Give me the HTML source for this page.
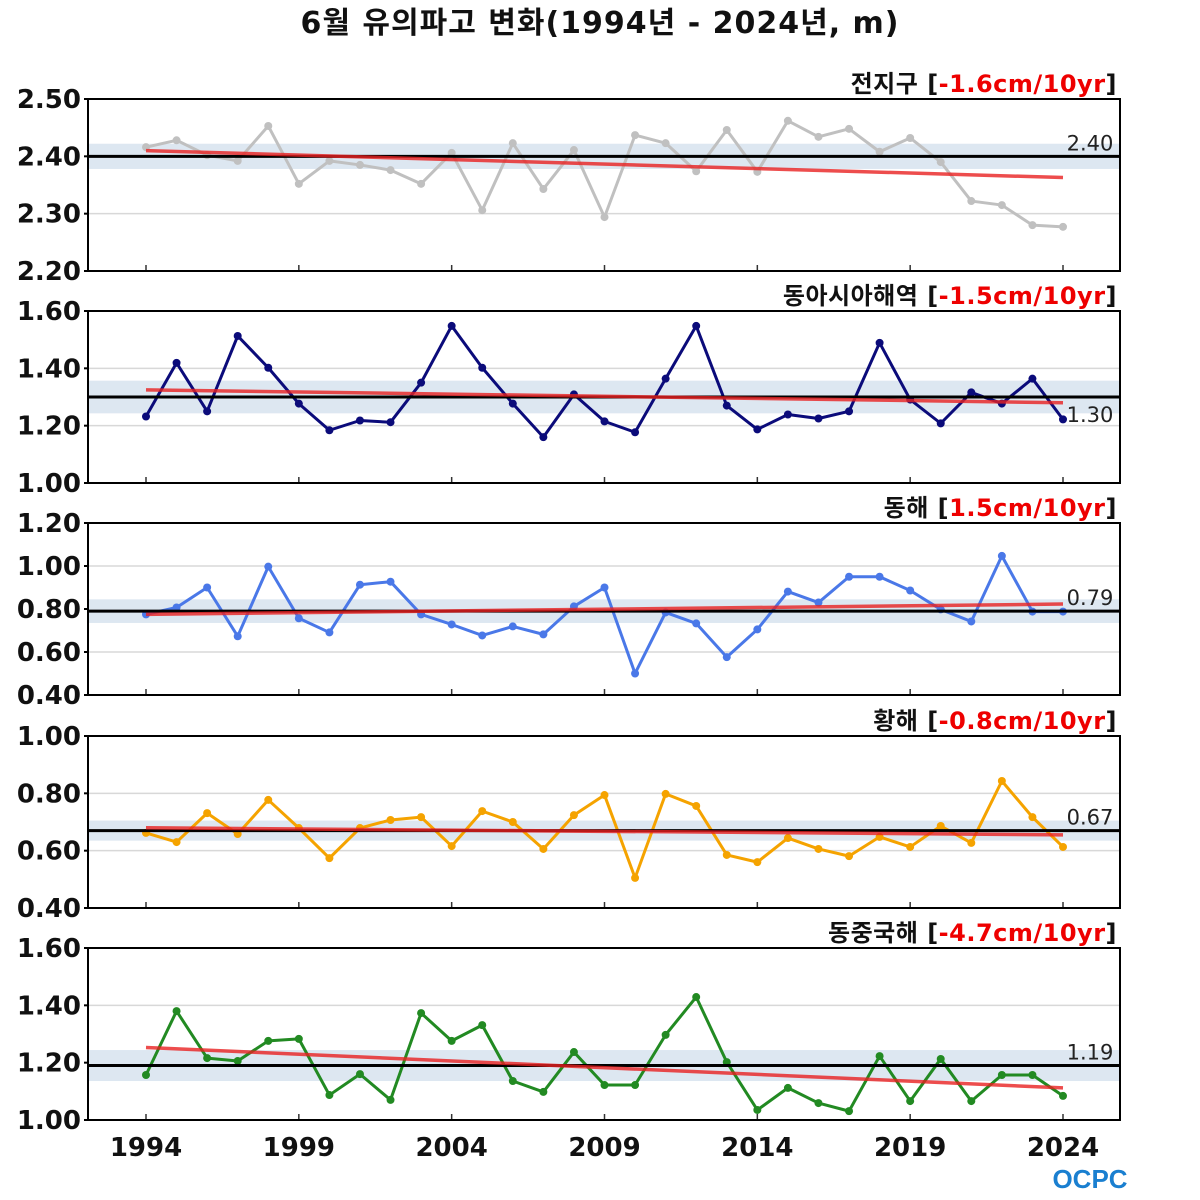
<!DOCTYPE html>
<html><head><meta charset="utf-8">
<style>
html,body{margin:0;padding:0;background:#fff;}
svg{display:block;}
</style></head>
<body>
<svg id="chart" width="1200" height="1200" xmlns="http://www.w3.org/2000/svg">
<text x="600" y="33" text-anchor="middle" font-family="'DejaVu Sans','Noto Sans CJK KR',sans-serif" font-weight="bold" font-size="30" letter-spacing="1" fill="#111">6월 유의파고 변화(1994년 - 2024년, m)</text>
<text x="1090" y="1188" text-anchor="middle" font-family="'Liberation Sans',sans-serif" font-weight="bold" font-size="26" fill="#1a7fd0">OCPC</text>
</svg>
<script>
const years = [1994,1995,1996,1997,1998,1999,2000,2001,2002,2003,2004,2005,2006,2007,2008,2009,2010,2011,2012,2013,2014,2015,2016,2017,2018,2019,2020,2021,2022,2023,2024];
const xTicks = [1994,1999,2004,2009,2014,2019,2024];
const regionNames = ["전지구","동아시아해역","동해","황해","동중국해"];
const trendLabels = ["-1.6cm/10yr","-1.5cm/10yr","1.5cm/10yr","-0.8cm/10yr","-4.7cm/10yr"];
const seriesGlobal = [2.416,2.428,2.402,2.392,2.453,2.352,2.392,2.385,2.376,2.352,2.406,2.306,2.423,2.343,2.411,2.294,2.437,2.423,2.374,2.446,2.373,2.462,2.434,2.448,2.408,2.432,2.390,2.322,2.315,2.280,2.277];
const seriesEastAsia = [1.232,1.419,1.25,1.513,1.402,1.277,1.184,1.218,1.212,1.35,1.548,1.402,1.277,1.16,1.309,1.215,1.177,1.364,1.548,1.27,1.187,1.239,1.225,1.25,1.489,1.291,1.208,1.316,1.277,1.364,1.222];
const seriesEastSea = [0.775,0.807,0.90,0.673,0.997,0.757,0.691,0.913,0.927,0.775,0.728,0.677,0.719,0.682,0.812,0.90,0.50,0.784,0.733,0.576,0.705,0.881,0.83,0.95,0.95,0.886,0.798,0.742,1.047,0.788,0.788];
const seriesYellowSea = [0.662,0.630,0.731,0.658,0.777,0.679,0.574,0.679,0.707,0.717,0.616,0.738,0.700,0.606,0.724,0.794,0.505,0.798,0.756,0.585,0.560,0.644,0.606,0.581,0.648,0.613,0.686,0.627,0.843,0.717,0.613];
const seriesEastChina = [1.157,1.380,1.216,1.206,1.276,1.283,1.087,1.160,1.070,1.373,1.276,1.331,1.136,1.098,1.237,1.122,1.122,1.297,1.429,1.202,1.035,1.112,1.059,1.031,1.223,1.066,1.213,1.066,1.157,1.157,1.084];
const means = [2.40,1.30,0.79,0.67,1.19];
const bandHalf = [0.022,0.057,0.055,0.035,0.054];
const trendStart = [2.410,1.325,0.775,0.680,1.253];
const trendEnd = [2.363,1.280,0.823,0.655,1.112];
const yMin = [2.2,1.0,0.4,0.4,1.0];
const yMax = [2.5,1.6,1.2,1.0,1.6];
const yStep = [0.1,0.2,0.2,0.2,0.2];
const labelBelow = [false,true,false,false,false];

const allSeries = [seriesGlobal,seriesEastAsia,seriesEastSea,seriesYellowSea,seriesEastChina];
const colors = ["#c0c0c0","#0b0b7a","#4a78e8","#f5a300","#228a22"];
const tops = [99,311,523,736,948];
const H = 172, X0 = 88, X1 = 1120;
const svg = document.getElementById('chart');
const NS = "http://www.w3.org/2000/svg";
const xScale = y => 146 + (y-1994)*(1063-146)/30;
function mk(tag, attrs, parent){
  const e = document.createElementNS(NS, tag);
  for (const k in attrs) e.setAttribute(k, attrs[k]);
  (parent||svg).appendChild(e);
  return e;
}
const FONT = "'DejaVu Sans','Noto Sans CJK KR',sans-serif";
for (let p=0;p<5;p++){
  const top = tops[p], bot = top+H;
  const ys = v => bot - (v-yMin[p])/(yMax[p]-yMin[p])*H;
  const g = mk('g',{});
  
  
  const n = Math.round((yMax[p]-yMin[p])/yStep[p]);
  for (let i=0;i<=n;i++){
    const v = yMin[p]+i*yStep[p];
    const y = ys(v);
    if (i>0 && i<n){
      const gl = mk('line',{x1:X0,x2:X1,y1:y,y2:y,stroke:'#d8d8d8','stroke-width':1.5},g);
      
      
    }
    mk('line',{x1:X0-4,x2:X0,y1:y,y2:y,stroke:'#000','stroke-width':2},g);
    const t = mk('text',{x:81,y:y+9,'text-anchor':'end','font-family':FONT,'font-weight':'bold','font-size':26,fill:'#111'},g);
    t.textContent = v.toFixed(2);
    
    
  }
  const band = mk('rect',{x:X0,y:ys(means[p]+bandHalf[p]),width:X1-X0,height:ys(means[p]-bandHalf[p])-ys(means[p]+bandHalf[p]),fill:'#dde7f1'},g);
  
  
  xTicks.forEach(yr=>{ mk('line',{x1:xScale(yr),x2:xScale(yr),y1:bot-6,y2:bot,stroke:'#333','stroke-width':1.5},g); });
  const s = allSeries[p];
  const pts = s.map((v,i)=>xScale(years[i])+','+ys(v)).join(' ');
  const line = mk('polyline',{points:pts,fill:'none',stroke:colors[p],'stroke-width':3,'stroke-linejoin':'round'},g);
  
  
  s.forEach((v,i)=>{
    const c = mk('circle',{cx:xScale(years[i]),cy:ys(v),r:4,fill:colors[p]},g);
    
    
  });
  const ml = mk('line',{x1:X0,x2:X1,y1:ys(means[p]),y2:ys(means[p]),stroke:'#000','stroke-width':3},g);
  
  
  const tl = mk('line',{x1:xScale(1994),x2:xScale(2024),y1:ys(trendStart[p]),y2:ys(trendEnd[p]),stroke:'#e82020','stroke-opacity':0.8,'stroke-width':3.5},g);
  
  
  const mt = mk('text',{x:1090,y:labelBelow[p]?ys(means[p])+25:ys(means[p])-6,'text-anchor':'middle','font-family':FONT,'font-size':21,fill:'#222'},g);
  mt.textContent = means[p].toFixed(2);
  
  
  mk('rect',{x:X0,y:top,width:X1-X0,height:H,fill:'none',stroke:'#000','stroke-width':2},g);
  const tt = mk('text',{x:1117,y:top-7,'text-anchor':'end','font-family':FONT,'font-weight':'bold','font-size':24,'letter-spacing':0.5,fill:'#111'},g);
  
  
  const a = mk('tspan',{},tt); a.textContent = regionNames[p]+' [';
  const b = mk('tspan',{fill:'#ee0000'},tt); b.textContent = trendLabels[p];
  const c = mk('tspan',{},tt); c.textContent = ']';
}
xTicks.forEach(yr=>{
  const t = mk('text',{x:xScale(yr),y:1156,'text-anchor':'middle','font-family':FONT,'font-weight':'bold','font-size':26,fill:'#111'});
  t.textContent = yr;
  
  
});
</script>
</body></html>
